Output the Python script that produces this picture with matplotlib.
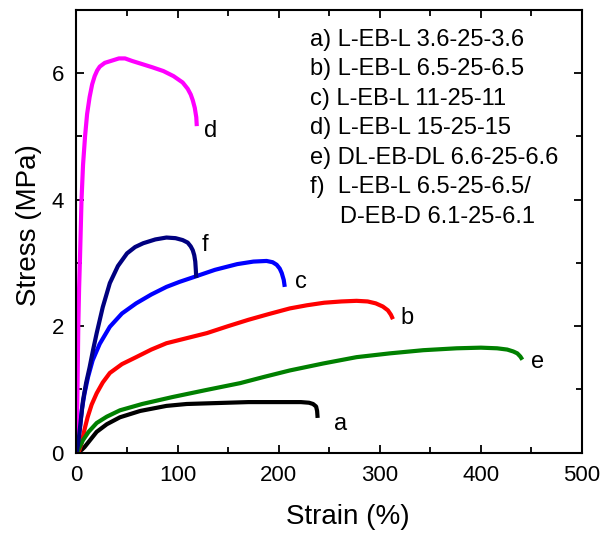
import matplotlib.pyplot as plt
from matplotlib.ticker import MultipleLocator

plt.rcParams['font.family'] = ['Liberation Sans', 'DejaVu Sans']

# strain (%) / stress (MPa)
a_x = [0, 3, 5.5, 8, 13, 20, 30, 43, 63, 89, 109, 129, 170, 211, 222, 230, 234, 237, 238, 238.5]
a_y = [0, 0.02, 0.05, 0.09, 0.19, 0.33, 0.45, 0.56, 0.66, 0.74, 0.77, 0.78, 0.80, 0.80, 0.80, 0.79,
       0.77, 0.73, 0.66, 0.55]

b_x = [2, 3.5, 5, 8, 11, 15, 20, 26, 33, 45, 59, 74, 89, 109, 129, 150, 170, 190, 211, 228, 245,
       262, 277, 288, 296, 303, 308, 311, 313]
b_y = [0, 0.07, 0.15, 0.37, 0.56, 0.76, 0.94, 1.11, 1.26, 1.40, 1.51, 1.63, 1.73, 1.81, 1.89, 2.00,
       2.10, 2.19, 2.28, 2.33, 2.37, 2.39, 2.40, 2.39, 2.36, 2.31, 2.25, 2.18, 2.11]

c_x = [0, 1.5, 3.5, 5.5, 8, 11.5, 16, 23, 33, 45, 59, 74, 89, 102, 115, 137, 159, 175, 188, 194,
       198, 201, 203, 205, 206]
c_y = [0, 0.20, 0.41, 0.70, 0.94, 1.20, 1.46, 1.72, 1.99, 2.20, 2.36, 2.50, 2.62, 2.70, 2.77, 2.89,
       2.98, 3.02, 3.03, 3.01, 2.97, 2.91, 2.84, 2.73, 2.62]

d_x = [0, 1, 1.8, 2.6, 3.5, 5, 6.5, 8.5, 10.5, 13, 15.5, 18, 20.5, 23, 28, 36, 42, 48, 55, 63, 75,
       86, 96, 105, 110, 113, 115, 117, 118.5, 119]
d_y = [0, 1.0, 2.0, 2.6, 3.09, 4.0, 4.55, 5.0, 5.35, 5.62, 5.82, 5.95, 6.04, 6.10, 6.16, 6.20, 6.23,
       6.23, 6.19, 6.15, 6.09, 6.03, 5.95, 5.85, 5.75, 5.66, 5.57, 5.45, 5.30, 5.16]

e_x = [0, 2, 4, 6.5, 12, 20, 30, 43, 65, 95, 128, 162, 186, 211, 244, 277, 310, 343, 376, 400, 416,
       426, 432, 436, 439, 441]
e_y = [0, 0.05, 0.12, 0.20, 0.33, 0.47, 0.57, 0.67, 0.77, 0.88, 0.99, 1.10, 1.20, 1.30, 1.41, 1.51,
       1.57, 1.62, 1.65, 1.66, 1.65, 1.63, 1.60, 1.57, 1.52, 1.47]

f_x = [0, 1.2, 2.5, 4.5, 6.5, 9.5, 13, 16.5, 20, 26, 33, 41, 50, 58, 66, 78, 89, 98, 105, 110, 113,
       115, 116.5, 117.5, 118, 118.5]
f_y = [0, 0.10, 0.25, 0.55, 0.83, 1.10, 1.35, 1.63, 1.89, 2.30, 2.68, 2.95, 3.15, 3.25, 3.31, 3.37,
       3.40, 3.39, 3.36, 3.32, 3.26, 3.20, 3.12, 3.02, 2.90, 2.76]

curves = [
    (a_x, a_y, 'black', 'a', 261, 0.45),
    (b_x, b_y, 'red', 'b', 327, 2.13),
    (c_x, c_y, 'blue', 'c', 222, 2.70),
    (d_x, d_y, 'magenta', 'd', 133, 5.08),
    (e_x, e_y, 'green', 'e', 456, 1.43),
    (f_x, f_y, 'navy', 'f', 127, 3.28),
]

legend_lines = [
    'a) L-EB-L 3.6-25-3.6',
    'b) L-EB-L 6.5-25-6.5',
    'c) L-EB-L 11-25-11',
    'd) L-EB-L 15-25-15',
    'e) DL-EB-DL 6.6-25-6.6',
    'f)  L-EB-L 6.5-25-6.5/',
]
legend_last = 'D-EB-D 6.1-25-6.1'

fig = plt.figure(figsize=(6.05, 5.38), dpi=100)
ax = fig.add_axes([0.1264, 0.1585, 0.8356, 0.8235])

for xs, ys, col, lab, lx, ly in curves:
    ax.plot(xs, ys, color=col, lw=3, solid_joinstyle='round', solid_capstyle='butt')
    ax.text(lx, ly, lab, fontsize=17, ha='center', va='center')

for i, t in enumerate(legend_lines):
    ax.text(231, 6.52 - i * 0.465, t, fontsize=17, ha='left', va='center')
ax.text(261, 6.52 - 6 * 0.465, legend_last, fontsize=17, ha='left', va='center')

ax.set_xlim(0, 500)
ax.set_ylim(0, 7)
ax.xaxis.set_major_locator(MultipleLocator(100))
ax.xaxis.set_minor_locator(MultipleLocator(50))
ax.yaxis.set_major_locator(MultipleLocator(2))
ax.yaxis.set_minor_locator(MultipleLocator(1))
ax.tick_params(which='both', direction='in', top=True, right=True, labelsize=16, width=1.3)
ax.tick_params(which='major', length=6, pad=9)
ax.tick_params(which='minor', length=4)
for s in ax.spines.values():
    s.set_linewidth(1.5)

ax.set_xlabel('Strain (%)', fontsize=20, va='top')
ax.xaxis.set_label_coords(0.537, -0.116)
ax.set_ylabel('Stress (MPa)', fontsize=20, va='center')
ax.yaxis.set_label_coords(-0.094, 0.514)

fig.savefig('out.png', dpi=100)
